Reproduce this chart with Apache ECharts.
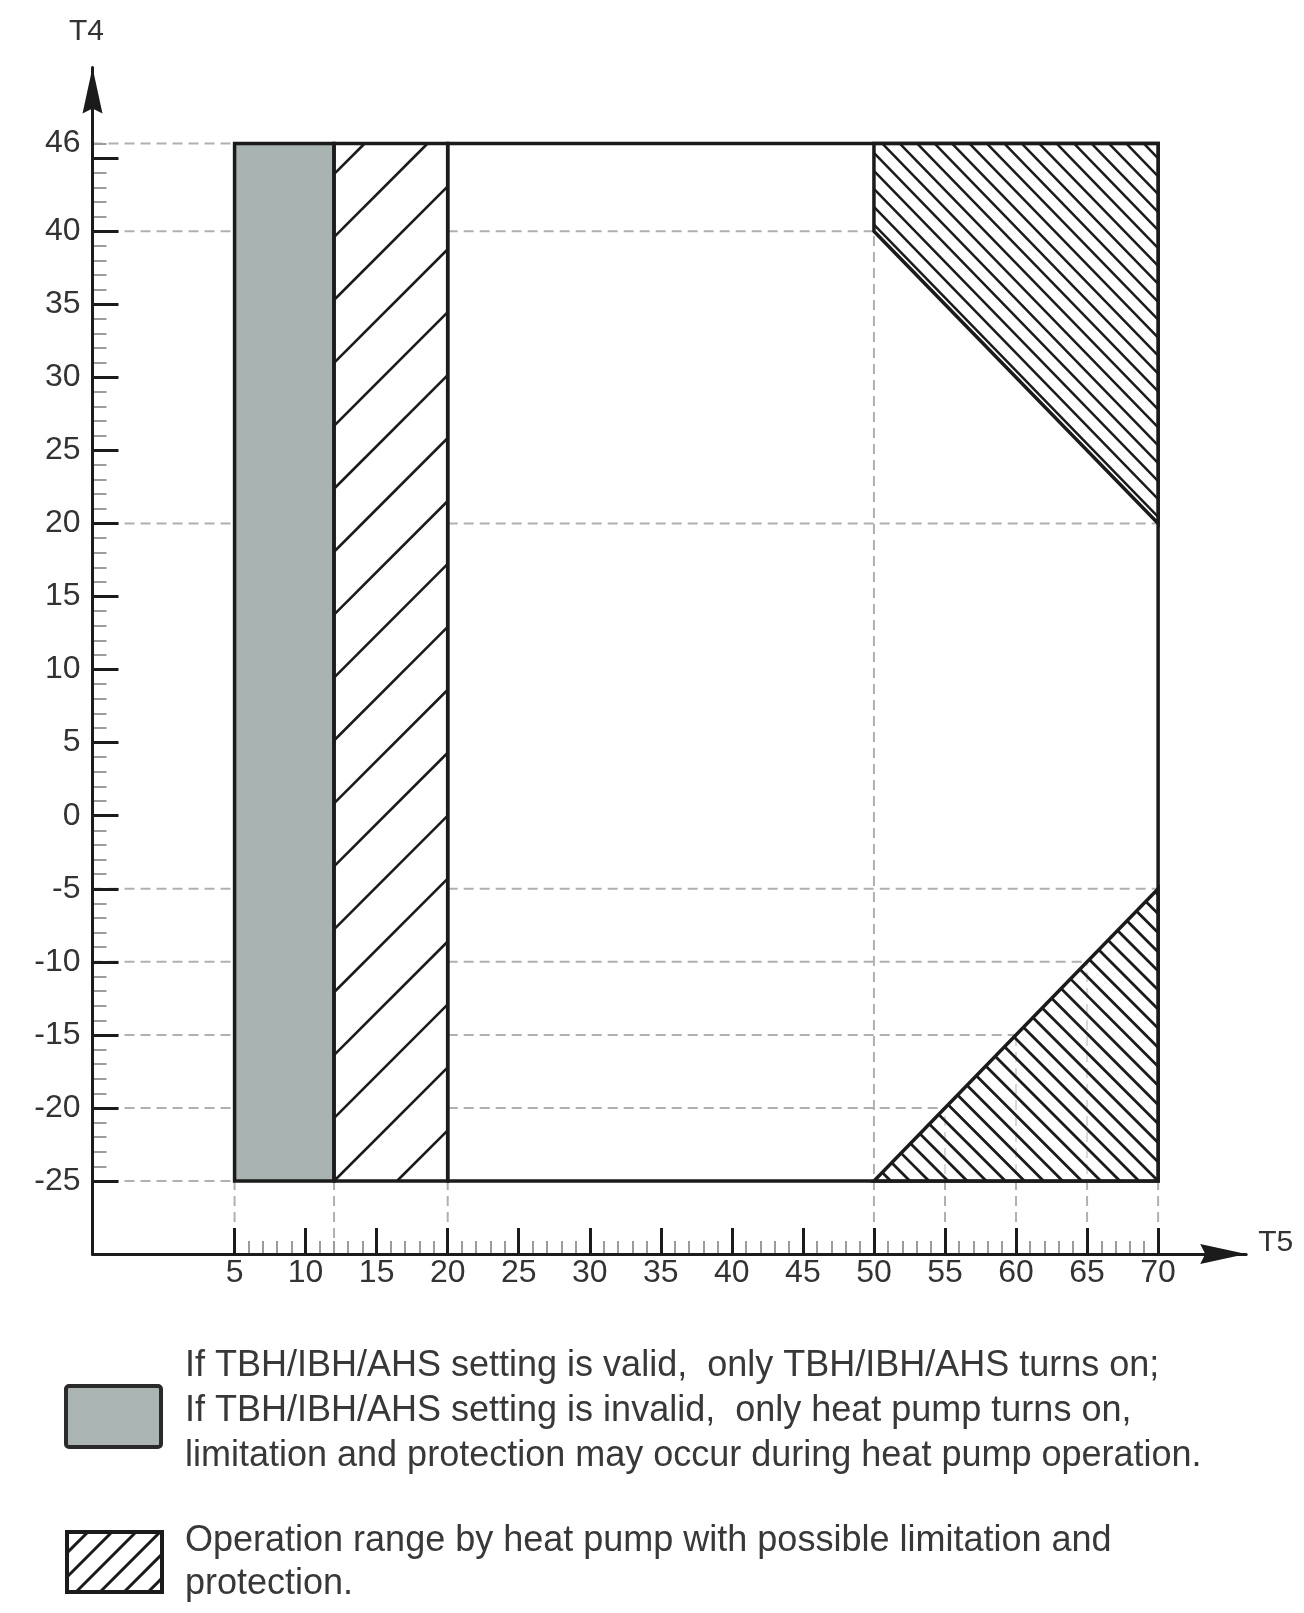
<!DOCTYPE html>
<html>
<head>
<meta charset="utf-8">
<title>T4 / T5 operation range</title>
<script src="https://cdn.jsdelivr.net/npm/echarts@6/dist/echarts.min.js"></script>
<style>
  html, body { margin: 0; padding: 0; background: #fff; }
  #chart { width: 1304px; height: 1613px; }
</style>
</head>
<body>
<div id="chart"></div>
<script>
// ---- axis ticks and labels ----
const xMajorTicks = [5, 10, 15, 20, 25, 30, 35, 40, 45, 50, 55, 60, 65, 70]
const yMajorTicks = [45, 40, 35, 30, 25, 20, 15, 10, 5, 0, -5, -10, -15, -20, -25]
const yLabels = [46, 40, 35, 30, 25, 20, 15, 10, 5, 0, -5, -10, -15, -20, -25]
const xMinorTicks = []
for (let v = 5; v <= 70; v++) if (v % 5 !== 0) xMinorTicks.push(v)
const yMinorTicks = []
for (let v = -25; v <= 46; v++) if (v % 5 !== 0) yMinorTicks.push(v)

// ---- regions (T5, T4) ----
const frameArea = [[20, -25], [70, -25], [70, 46], [20, 46]]
const backupHeaterArea = [[5, -25], [12, -25], [12, 46], [5, 46]]
const heatPumpBand = [[12, -25], [20, -25], [20, 46], [12, 46]]
const upperLimitArea = [[50, 46], [70, 46], [70, 20], [50, 40]]
const lowerLimitArea = [[50, -25], [70, -25], [70, -5]]

// ---- dashed guide lines ----
// horizontal: [T4, T5 from, T5 to]
const hDashed = [
  [46, -5, 5], [40, -5, 5], [40, 20, 50], [20, -5, 5], [20, 20, 70],
  [-5, -5, 5], [-5, 20, 70], [-10, -5, 5], [-10, 20, 65], [-15, -5, 5],
  [-15, 20, 60], [-20, -5, 5], [-20, 20, 55], [-25, -5, 5]
]
// vertical: [T5, T4 from, T4 to]
const vDashed = [
  [5, -30, -25], [12, -30, -25], [20, -30, -25], [50, -30, 40],
  [55, -30, -20], [60, -30, -15], [65, -30, -10], [70, -30, -25]
]

const legendLines1 = [
  'If TBH/IBH/AHS setting is valid,  only TBH/IBH/AHS turns on;',
  'If TBH/IBH/AHS setting is invalid,  only heat pump turns on,',
  'limitation and protection may occur during heat pump operation.'
]
const legendLines2 = [
  'Operation range by heat pump with possible limitation and',
  'protection.'
]

const X_MIN = -5, X_MAX = 76.2, Y_MIN = -30, Y_MAX = 51.2
const INK = '#1b1b1b'
const FONT = 'Liberation Sans'

// clip a segment to a convex polygon (Cyrus-Beck)
function clipToPolygon(p0, p1, poly) {
  let area = 0
  for (let i = 0; i < poly.length; i++) {
    const a = poly[i], b = poly[(i + 1) % poly.length]
    area += a[0] * b[1] - b[0] * a[1]
  }
  const s = area > 0 ? 1 : -1
  const d = [p1[0] - p0[0], p1[1] - p0[1]]
  let t0 = 0, t1 = 1
  for (let i = 0; i < poly.length; i++) {
    const a = poly[i], b = poly[(i + 1) % poly.length]
    const nx = -(b[1] - a[1]) * s, ny = (b[0] - a[0]) * s
    const num = nx * (p0[0] - a[0]) + ny * (p0[1] - a[1])
    const den = nx * d[0] + ny * d[1]
    if (den === 0) {
      if (num < 0) return null
      continue
    }
    const t = -num / den
    if (den > 0) t0 = Math.max(t0, t)
    else t1 = Math.min(t1, t)
    if (t0 >= t1) return null
  }
  return [[p0[0] + d[0] * t0, p0[1] + d[1] * t0], [p0[0] + d[0] * t1, p0[1] + d[1] * t1]]
}

// parallel hatch lines inside a pixel polygon
function hatchSegments(poly, dir, gap, anchor, shift) {
  const len = Math.hypot(dir[0], dir[1])
  const d = [dir[0] / len, dir[1] / len]
  const n = [-d[1], d[0]]
  const base = [anchor[0] + n[0] * (shift || 0), anchor[1] + n[1] * (shift || 0)]
  let lo = Infinity, hi = -Infinity
  poly.forEach(p => {
    const v = (p[0] - base[0]) * n[0] + (p[1] - base[1]) * n[1]
    lo = Math.min(lo, v)
    hi = Math.max(hi, v)
  })
  const out = []
  for (let k = Math.ceil(lo / gap); k <= Math.floor(hi / gap); k++) {
    const c = [base[0] + n[0] * gap * k, base[1] + n[1] * gap * k]
    const seg = clipToPolygon([c[0] - d[0] * 4000, c[1] - d[1] * 4000], [c[0] + d[0] * 4000, c[1] + d[1] * 4000], poly)
    if (seg && Math.hypot(seg[1][0] - seg[0][0], seg[1][1] - seg[0][1]) > 2) out.push(seg)
  }
  return out
}

const regions = [frameArea, backupHeaterArea, heatPumpBand, upperLimitArea, lowerLimitArea]
const regionLooks = [
  { border: 3.5 },
  { fill: '#a9b3b2', border: 3.5 },
  { hatch: { dir: [1, -1], gap: 44.5, width: 2.6, anchor: 0, shift: 0 }, border: 3.5 },
  { fill: 'rgba(255,255,255,0.6)', hatch: { edge: [3, 2], gap: 12.5, width: 2.5, anchor: 3, shift: -4.5 }, border: 3.5 },
  { fill: 'rgba(255,255,255,0.5)', hatch: { dir: [1, 1], gap: 13.5, width: 2.8, anchor: 1, shift: 0 }, border: 3.5 }
]

function renderRegion(params, api) {
  const idx = api.value(0)
  const pts = regions[idx].map(p => api.coord(p))
  const look = regionLooks[idx]
  const children = []
  if (look.fill) {
    children.push({ type: 'polygon', shape: { points: pts }, style: { fill: look.fill } })
  }
  if (look.hatch) {
    const h = look.hatch
    let dir = h.dir
    if (h.edge) {
      const a = pts[h.edge[0]], b = pts[h.edge[1]]
      dir = [b[0] - a[0], b[1] - a[1]]
    }
    hatchSegments(pts, dir, h.gap, pts[h.anchor], h.shift).forEach(seg => {
      children.push({
        type: 'line',
        shape: { x1: seg[0][0], y1: seg[0][1], x2: seg[1][0], y2: seg[1][1] },
        style: { stroke: INK, lineWidth: h.width }
      })
    })
  }
  children.push({
    type: 'polygon',
    shape: { points: pts },
    style: { fill: 'none', stroke: INK, lineWidth: look.border, lineJoin: 'miter' }
  })
  return { type: 'group', children }
}

function renderDashed(params, api) {
  const p1 = api.coord([api.value(0), api.value(1)])
  const p2 = api.coord([api.value(2), api.value(3)])
  return {
    type: 'line',
    shape: { x1: p1[0], y1: p1[1], x2: p2[0], y2: p2[1] },
    style: { stroke: '#b0b0b0', lineWidth: 2, lineDash: [10, 6] }
  }
}

const dashedData = hDashed.map(([y, a, b]) => [a, y, b, y])
  .concat(vDashed.map(([x, a, b]) => [x, a, x, b]))

// ---- legend graphics ----
const swatch2 = [[67, 1532], [162, 1532], [162, 1592], [67, 1592]]
const legendGraphics = [
  {
    type: 'rect',
    shape: { x: 66, y: 1386, width: 95, height: 61, r: 3 },
    style: { fill: '#a9b4b3', stroke: '#2a2a2a', lineWidth: 4 }
  }
]
hatchSegments(swatch2, [1, -1], 17, [76, 1592], 0).forEach(seg => {
  legendGraphics.push({
    type: 'line',
    shape: { x1: seg[0][0], y1: seg[0][1], x2: seg[1][0], y2: seg[1][1] },
    style: { stroke: INK, lineWidth: 3 }
  })
})
legendGraphics.push({
  type: 'rect',
  shape: { x: 67, y: 1532, width: 95, height: 60 },
  style: { fill: 'none', stroke: INK, lineWidth: 4 }
})
legendLines1.forEach((t, i) => {
  legendGraphics.push({
    type: 'text',
    x: 185, y: 1366 + i * 45,
    style: { text: t, fontSize: 36, fontFamily: FONT, fill: '#383838', verticalAlign: 'middle' }
  })
})
legendLines2.forEach((t, i) => {
  legendGraphics.push({
    type: 'text',
    x: 185, y: 1541 + i * 43,
    style: { text: t, fontSize: 36, fontFamily: FONT, fill: '#383838', verticalAlign: 'middle' }
  })
})

const labelStyle = { fontSize: 32, fontFamily: FONT, color: '#333' }

const option = {
  backgroundColor: '#fff',
  animation: false,
  grid: { left: 92.5, top: 67.5, width: 1153.7, height: 1186.6, outerBoundsMode: 'none' },
  xAxis: [{
    type: 'value', min: X_MIN, max: X_MAX, position: 'bottom', z: 5,
    axisLine: { onZero: false, lineStyle: { color: INK, width: 3 } },
    axisTick: { show: true, inside: true, length: 26, customValues: xMajorTicks, lineStyle: { color: INK, width: 3 } },
    axisLabel: { show: true, customValues: xMajorTicks, margin: 3, ...labelStyle },
    splitLine: { show: false }
  }, {
    type: 'value', min: X_MIN, max: X_MAX, position: 'bottom', z: 4,
    axisLine: { show: false, onZero: false },
    axisTick: { show: true, inside: true, length: 13, customValues: xMinorTicks, lineStyle: { color: '#9c9c9c', width: 2 } },
    axisLabel: { show: false },
    splitLine: { show: false }
  }],
  yAxis: [{
    type: 'value', min: Y_MIN, max: Y_MAX, position: 'left', z: 5,
    axisLine: { onZero: false, lineStyle: { color: INK, width: 3 } },
    axisTick: { show: true, inside: true, length: 26, customValues: yMajorTicks, lineStyle: { color: INK, width: 3 } },
    axisLabel: { show: true, customValues: yLabels, margin: 12, ...labelStyle },
    splitLine: { show: false }
  }, {
    type: 'value', min: Y_MIN, max: Y_MAX, position: 'left', z: 4,
    axisLine: { show: false, onZero: false },
    axisTick: { show: true, inside: true, length: 14, customValues: yMinorTicks, lineStyle: { color: '#9c9c9c', width: 2 } },
    axisLabel: { show: false },
    splitLine: { show: false }
  }],
  series: [{
    name: 'guides',
    type: 'custom',
    z: 1,
    silent: true,
    xAxisIndex: 0,
    yAxisIndex: 0,
    dimensions: ['x1', 'y1', 'x2', 'y2'],
    encode: { x: [0, 2], y: [1, 3] },
    renderItem: renderDashed,
    data: dashedData
  }, {
    name: 'regions',
    type: 'custom',
    z: 2,
    silent: true,
    xAxisIndex: 0,
    yAxisIndex: 0,
    renderItem: renderRegion,
    data: regions.map((r, i) => [i])
  }],
  graphic: legendGraphics
}

const chart = echarts.init(document.getElementById('chart'))
chart.setOption(option)

// arrow heads and axis names at the ends of both axes
const xTip = chart.convertToPixel({ gridIndex: 0 }, [X_MAX, Y_MIN])
const yTip = chart.convertToPixel({ gridIndex: 0 }, [X_MIN, Y_MAX])
const headLen = 46, headHalf = 10, notch = 5
chart.setOption({
  graphic: legendGraphics.concat([{
    type: 'polygon', z: 100,
    shape: { points: [xTip, [xTip[0] - headLen, xTip[1] - headHalf], [xTip[0] - headLen + notch, xTip[1]], [xTip[0] - headLen, xTip[1] + headHalf]] },
    style: { fill: INK }
  }, {
    type: 'polygon', z: 100,
    shape: { points: [yTip, [yTip[0] + headHalf, yTip[1] + headLen], [yTip[0], yTip[1] + headLen - notch], [yTip[0] - headHalf, yTip[1] + headLen]] },
    style: { fill: INK }
  }, {
    type: 'text',
    x: xTip[0] + 12, y: xTip[1] - 11,
    style: { text: 'T5', fontSize: 30, fontFamily: FONT, fill: '#333', verticalAlign: 'middle' }
  }, {
    type: 'text',
    x: yTip[0] - 6, y: yTip[1] - 36,
    style: { text: 'T4', fontSize: 30, fontFamily: FONT, fill: '#333', align: 'center', verticalAlign: 'middle' }
  }])
})
window.addEventListener('resize', () => chart.resize())
</script>
</body>
</html>
